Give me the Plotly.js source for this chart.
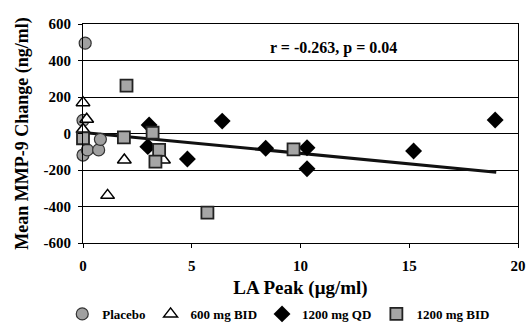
<!DOCTYPE html>
<html>
<head>
<meta charset="utf-8">
<script src="https://cdn.plot.ly/plotly-3.0.1.min.js"></script>
<style>html,body{margin:0;padding:0;background:#fff;}#chart{width:527px;height:323px;}</style>
</head>
<body>
<div id="chart"></div>
<script>
// Placebo
var placeboX = [0.1, 0.0, 0.0, 0.2, 0.72, 0.8];
var placeboY = [495, 72, -118, -90, -90, -32];
// 600 mg BID
var bid600X = [0.0, 0.17, 0.0, 1.9, 1.13, 3.7];
var bid600Y = [169, 78, 22, -145, -339, -145];
// 1200 mg QD
var qd1200X = [3.04, 2.98, 4.8, 6.4, 8.4, 10.3, 10.3, 15.2, 18.95];
var qd1200Y = [47, -72, -140, 68, -81, -78, -193, -96, 74];
// 1200 mg BID
var bid1200X = [2.0, 0.0, 1.88, 3.2, 3.5, 3.33, 5.72, 9.68];
var bid1200Y = [262, -26, -21, 4, -90, -154, -434, -87];
// Trend line
var trendX = [0, 19];
var trendY = [6, -212];

var seriesNames = ['Placebo', '600 mg BID', '1200 mg QD', '1200 mg BID'];
var yTicks = [600, 400, 200, 0, -200, -400, -600];
var yTickText = ['600', '400', '200', '0', '-200', '-400', '-600'];
var xTicks = [0, 5, 10, 15, 20];
var statText = 'r = -0.263, p = 0.04';

var FONT = 'Liberation Serif, Times New Roman, serif';

var traces = [
  {x: trendX, y: trendY, mode: 'lines', line: {color: '#111', width: 3}, showlegend: false, hoverinfo: 'skip', cliponaxis: false},
  {x: placeboX, y: placeboY, mode: 'markers', name: seriesNames[0], cliponaxis: false,
   marker: {symbol: 'circle', size: 12, color: '#a0a0a0', line: {color: '#333', width: 1.2}}},
  {x: bid600X, y: bid600Y, mode: 'markers', name: seriesNames[1], cliponaxis: false,
   marker: {symbol: 'triangle-up', size: 12, color: '#ffffff', line: {color: '#000', width: 1.5}}},
  {x: qd1200X, y: qd1200Y, mode: 'markers', name: seriesNames[2], cliponaxis: false,
   marker: {symbol: 'diamond', size: 13, color: '#000000', line: {color: '#000', width: 0}}},
  {x: bid1200X, y: bid1200Y, mode: 'markers', name: seriesNames[3], cliponaxis: false,
   marker: {symbol: 'square', size: 12, color: '#a6a6a6', line: {color: '#222', width: 1.8}}}
];

var layout = {
  width: 527, height: 323,
  paper_bgcolor: '#fff', plot_bgcolor: '#fff',
  margin: {l: 83, r: 9, t: 24, b: 80},
  font: {family: FONT, color: '#000', size: 15, weight: 'bold'},
  xaxis: {
    range: [0, 20], tickvals: xTicks, ticktext: xTicks.map(String),
    showgrid: false, zeroline: false, showline: true, linecolor: '#000', linewidth: 1, mirror: true,
    ticks: 'outside', ticklen: 4, tickcolor: '#000', ticklabelstandoff: 5,
    tickfont: {family: FONT, size: 15, weight: 'bold'},
    title: {text: 'LA Peak (μg/ml)', font: {family: FONT, size: 19, weight: 'bold'}, standoff: 15},
    automargin: false
  },
  yaxis: {
    range: [-600, 600], tickvals: yTicks, ticktext: yTickText,
    showgrid: true, gridcolor: '#000', gridwidth: 1, zeroline: false,
    showline: true, linecolor: '#000', linewidth: 1, mirror: true,
    ticks: 'outside', ticklen: 4, tickcolor: '#000', ticklabelstandoff: 4,
    tickfont: {family: FONT, size: 15, weight: 'bold'},
    title: {text: 'Mean MMP-9 Change (ng/ml)', font: {family: FONT, size: 18, weight: 'bold'}, standoff: 10},
    automargin: false
  },
  legend: {
    orientation: 'h', x: 0.45, xanchor: 'center', yref: 'container', y: 0.028, yanchor: 'middle',
    font: {family: FONT, size: 13, weight: 'bold'}, itemwidth: 30, tracegroupgap: 0,
    bgcolor: 'rgba(0,0,0,0)'
  },
  annotations: [{
    text: statText, xref: 'paper', yref: 'paper', x: 0.576, y: 0.89, xanchor: 'center', yanchor: 'middle',
    showarrow: false, font: {family: FONT, size: 16, weight: 'bold'}
  }],
  showlegend: true
};

Plotly.newPlot('chart', traces, layout, {staticPlot: true, displayModeBar: false});
</script>
</body>
</html>
